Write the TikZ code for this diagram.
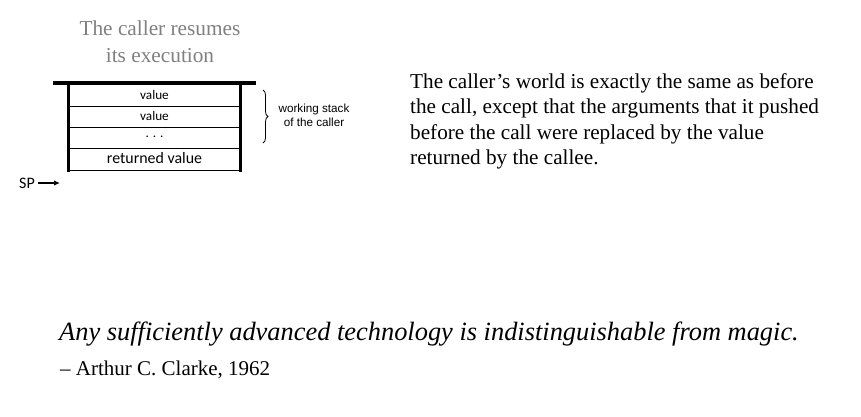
\documentclass[tikz,border=0pt]{standalone}
\usepackage{fontspec}
\setmainfont{Liberation Serif}
\newfontfamily\carl{Carlito}
\newfontfamily\arialf{Liberation Sans}
\usetikzlibrary{decorations.pathreplacing,arrows.meta}
\definecolor{titlegray}{RGB}{128,128,128}
\begin{document}
\begin{tikzpicture}[x=1pt,y=-1pt,
  topline/.style={line width=3.8pt},
  thickline/.style={line width=3pt},
  thinline/.style={line width=0.9pt},
  cell/.style={font=\carl\fontsize{13.2}{15}\selectfont, inner sep=0pt, anchor=center},
  body/.style={font=\fontsize{21.2}{25.3}\selectfont, align=left, anchor=north west, inner sep=0pt}]
\useasboundingbox (0,0) rectangle (861,416);
% title
\node[font=\fontsize{21.3}{27}\selectfont, text=titlegray, align=center] (title) at (160,42) {The caller resumes\\its execution};
% stack
\coordinate (tl) at (53,83);
\coordinate (tr) at (256,83);
\coordinate (lt) at (68.5,83);
\coordinate (lb) at (68.5,172);
\coordinate (rt) at (240.5,83);
\coordinate (rb) at (240.5,172);
\foreach \yy in {106,127,148,170} \draw[thinline] (68,\yy) -- (241,\yy);
\draw[topline] (tl) -- (tr);
\draw[thickline] (lt) -- (lb);
\draw[thickline] (rt) -- (rb);
\node[cell] (v1) at (154.5,94.5) {value};
\node[cell] (v2) at (154.5,116) {value};
\node[cell] (v3) at (154.5,137) {. . .};
\node[cell,font=\carl\fontsize{15.9}{17}\selectfont] (v4) at (154.5,158.5) {returned value};
% brace
\coordinate (bt) at (263,90);
\coordinate (bb) at (263,143);
\draw[decorate,decoration={brace,amplitude=5pt},line width=0.8pt] (bt) -- (bb);
\node[font=\arialf\fontsize{11.7}{14}\selectfont, align=center] (ws) at (314,115) {working stack\\of the caller};
% SP
\node[font=\carl\fontsize{16}{18}\selectfont, anchor=west, inner sep=0pt] (sp) at (19,183) {SP};
\coordinate (spstart) at (38,183);
\coordinate (spend) at (60,183);
\draw[-{Latex[length=6pt,width=5.5pt]}, line width=1.2pt] (spstart) -- (spend);
% paragraph
\node[body] (para) at (410,73.5) {The caller’s world is exactly the same as before\\the call, except that the arguments that it pushed\\before the call were replaced by the value\\returned by the callee.};
% quote
\node[font=\itshape\fontsize{26.4}{30}\selectfont, anchor=west, inner sep=0pt] (quote) at (59,334) {Any sufficiently advanced technology is indistinguishable from magic.};
\node[font=\fontsize{21}{23}\selectfont, anchor=west, inner sep=0pt] (author) at (60,370) {– Arthur C. Clarke, 1962};
\end{tikzpicture}
\end{document}
